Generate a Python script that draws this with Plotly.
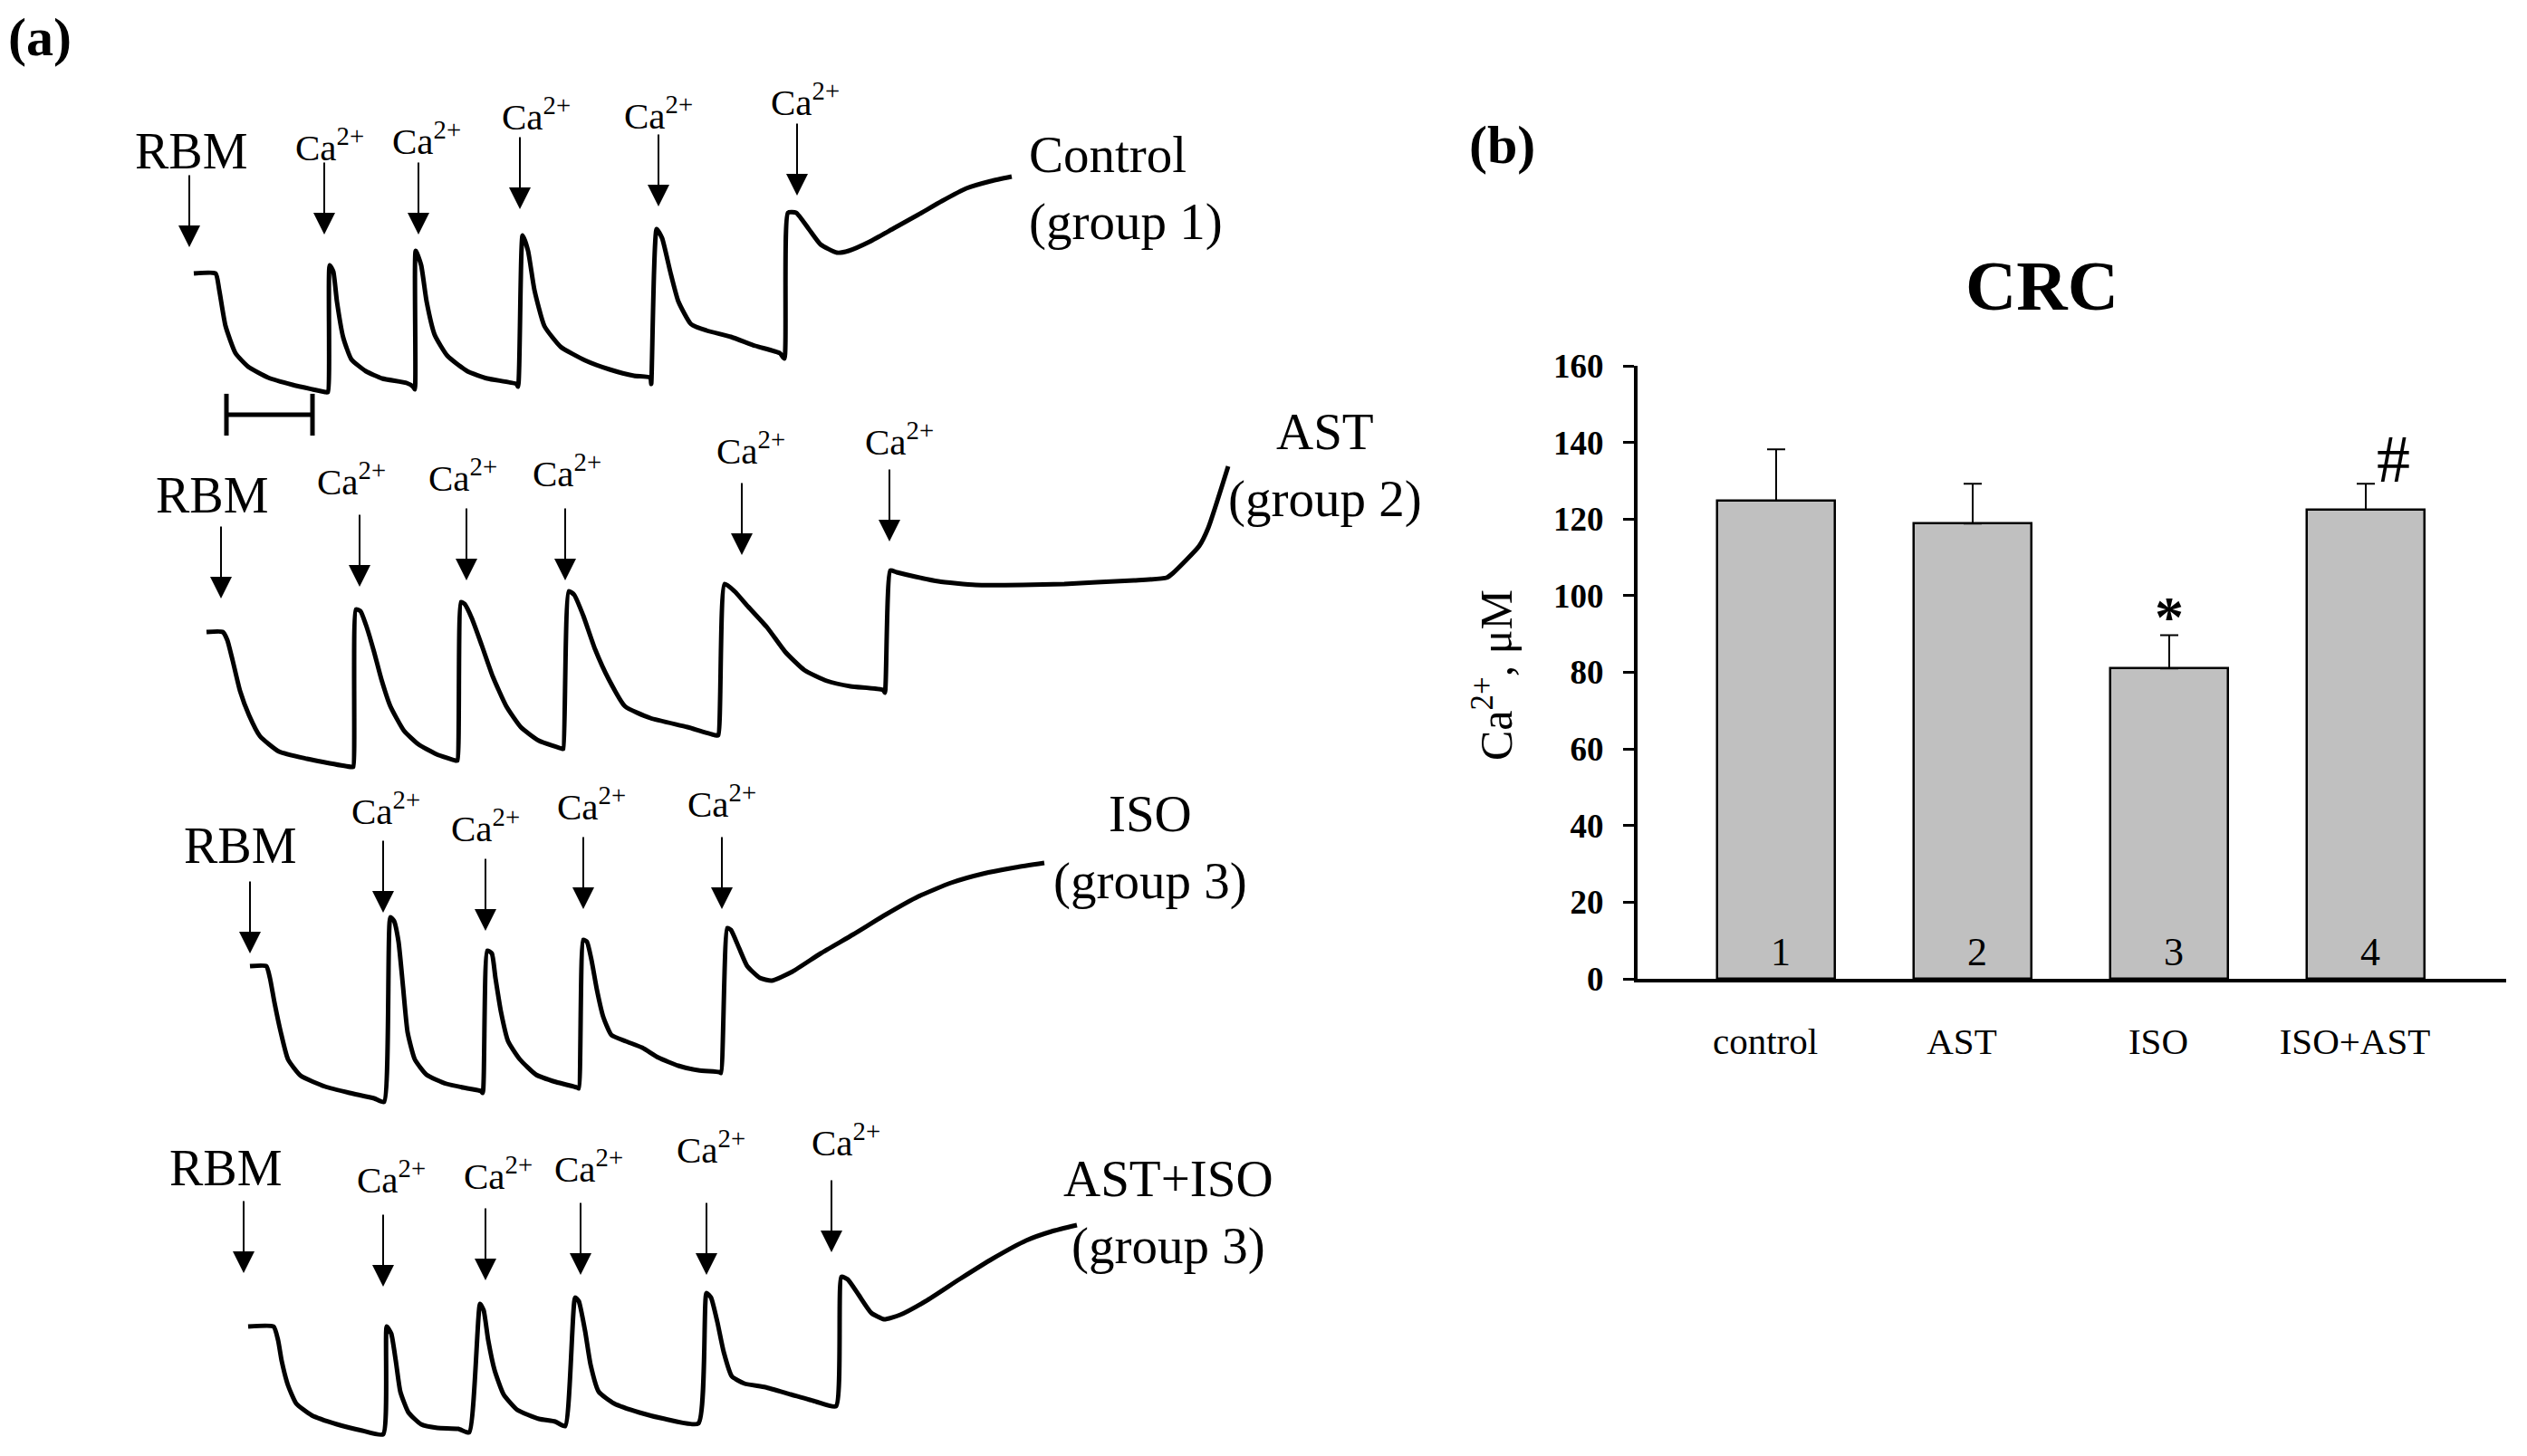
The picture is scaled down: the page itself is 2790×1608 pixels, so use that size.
import plotly.graph_objects as go

# ------------------------------------------------------------------
# DATA
# ------------------------------------------------------------------
# Panel (a): Ca2+ retention traces, (time, signal) pairs.
# time in px-units from RBM addition, signal upward-positive relative to start level.
control_trace = [(0, 0), (24, 0), (28, -18), (35, -58), (46, -88), (60, -103), (82, -115), (109, -123),
                 (131, -128), (145, -131), (148, -131), (150, 9), (154, 2), (158, -31), (165, -71),
                 (174, -95), (190, -108), (208, -116), (235, -121), (242, -125), (244, -128), (245, 25),
                 (251, 9), (257, -31), (266, -68), (280, -91), (302, -108), (324, -116), (356, -122),
                 (358, -125), (363, 42), (369, 25), (376, -18), (387, -58), (405, -81), (432, -96),
                 (459, -106), (486, -113), (504, -115), (505, -122), (511, 49), (517, 39), (526, 2),
                 (535, -31), (549, -56), (566, -63), (593, -70), (620, -80), (647, -88), (652, -94),
                 (656, 67), (665, 67), (679, 49), (692, 32), (710, 23), (723, 25), (746, 35), (773, 50),
                 (800, 65), (826, 80), (853, 94), (880, 102), (903, 107)]

ast_trace = [(0, 0), (18, 0), (23, -9), (29, -32), (37, -65), (47, -92), (59, -115), (80, -132),
             (111, -140), (136, -145), (160, -149), (162, -149), (165, 25), (170, 23), (177, 5),
             (185, -22), (193, -52), (203, -82), (218, -109), (234, -124), (254, -135), (275, -142),
             (277, -142), (281, 33), (285, 31), (293, 15), (304, -15), (316, -49), (331, -82),
             (347, -105), (367, -120), (393, -129), (394, -129), (400, 45), (406, 41), (416, 18),
             (429, -19), (444, -52), (462, -82), (490, -95), (531, -105), (562, -114), (565, -114),
             (572, 53), (583, 45), (598, 28), (619, 5), (639, -22), (660, -42), (685, -54), (711, -60),
             (747, -64), (749, -67), (755, 68), (762, 66), (783, 61), (808, 56), (849, 52), (901, 52),
             (947, 53), (983, 55), (1024, 57), (1060, 60), (1067, 65), (1096, 95), (1106, 115),
             (1128, 183)]

iso_trace = [(0, 0), (18, 0), (22, -13), (27, -40), (34, -73), (42, -103), (56, -121), (83, -133),
             (110, -140), (137, -146), (148, -150), (155, 54), (159, 50), (164, 27), (169, -23),
             (174, -73), (182, -103), (195, -120), (217, -130), (240, -135), (255, -138), (257, -140),
             (262, 17), (267, 14), (271, -13), (277, -50), (285, -83), (298, -103), (316, -120),
             (338, -128), (361, -134), (363, -135), (368, 29), (372, 27), (377, 7), (383, -26),
             (390, -56), (399, -76), (415, -83), (433, -90), (451, -101), (473, -110), (495, -115),
             (518, -117), (520, -118), (527, 42), (531, 40), (540, 20), (549, 0), (563, -13),
             (576, -16), (599, -6), (630, 14), (666, 35), (702, 57), (738, 77), (774, 92), (809, 102),
             (845, 109), (877, 114)]

astiso_trace = [(0, 0), (28, 0), (33, -15), (37, -38), (44, -65), (53, -85), (70, -98), (98, -108),
                (126, -115), (149, -119), (153, 0), (158, -8), (163, -38), (168, -72), (177, -95),
                (191, -108), (209, -112), (232, -113), (244, -117), (256, 25), (260, 18), (265, -15),
                (272, -48), (282, -75), (297, -92), (321, -102), (339, -105), (350, -110), (361, 32),
                (365, 28), (372, -5), (378, -42), (387, -72), (404, -85), (432, -95), (460, -102),
                (497, -107), (506, 37), (511, 32), (518, 5), (525, -28), (534, -55), (548, -63),
                (571, -67), (599, -75), (627, -83), (649, -88), (655, 55), (662, 52), (674, 35),
                (688, 15), (702, 8), (720, 13), (748, 28), (785, 52), (822, 75), (859, 95), (887, 105),
                (915, 112)]

# additions: (time, signal at arrow tip); first is RBM, the rest Ca2+
control_adds = [(-5, 25), (144, 39), (248, 39), (360, 67), (513, 70), (666, 82)]
ast_adds = [(16, 33), (169, 46), (287, 53), (396, 53), (591, 81), (754, 96)]
iso_adds = [(0, 10), (147, 55), (260, 35), (368, 59), (521, 59)]
astiso_adds = [(-5, 55), (149, 40), (262, 47), (367, 53), (506, 53), (644, 78)]

group_names = ["Control<br>(group 1)", "AST<br>(group 2)", "ISO<br>(group 3)", "AST+ISO<br>(group 3)"]
scale_bar_time = 95

# Panel (b): CRC bar chart
groups = ["control", "AST", "ISO", "ISO+AST"]
crc_mean = [124.8, 118.8, 81.0, 122.4]
crc_err = [13.4, 10.4, 8.7, 6.8]
group_numbers = ["1", "2", "3", "4"]
y_ticks = [0, 20, 40, 60, 80, 100, 120, 140, 160]

# ------------------------------------------------------------------
# LAYOUT / STYLE
# ------------------------------------------------------------------
W, H = 2790, 1608
SERIF = "Liberation Serif"
ARROW_LEN = 85

panels = [
    dict(trace=control_trace, adds=control_adds, x0=214, y0=302,
         gaps=[25, 18, 25, 24, 22, 25], dxs=[2, 6, 9, 18, 0, 9],
         name_xy=(1134, 208), name_anchor="left"),
    dict(trace=ast_trace, adds=ast_adds, x0=228, y0=698,
         gaps=[33, 38, 35, 40, 37, 32], dxs=[-10, -9, -4, 2, 10, 11],
         name_xy=(1463, 514), name_anchor="center"),
    dict(trace=iso_trace, adds=iso_adds, x0=276, y0=1067,
         gaps=[38, 34, 35, 35, 38], dxs=[-11, 3, 0, 9, 0],
         name_xy=(1270, 936), name_anchor="center"),
    dict(trace=astiso_trace, adds=astiso_adds, x0=274, y0=1465,
         gaps=[35, 40, 37, 39, 60, 43], dxs=[-20, 9, 14, 9, 5, 16],
         name_xy=(1290, 1339), name_anchor="center"),
]

fig = go.Figure()

for p, name in zip(panels, group_names):
    xs = [p["x0"] + t for t, s in p["trace"]]
    ys = [p["y0"] - s for t, s in p["trace"]]
    fig.add_trace(go.Scatter(x=xs, y=ys, mode="lines", xaxis="x", yaxis="y",
                             line=dict(color="black", width=5, shape="spline", smoothing=0.5),
                             hoverinfo="skip"))
    for i, ((t, s), gap, dx) in enumerate(zip(p["adds"], p["gaps"], p["dxs"])):
        ax_x = p["x0"] + t
        tip = p["y0"] - s
        top = tip - ARROW_LEN
        fig.add_annotation(x=ax_x, y=tip - 4, ax=ax_x, ay=top, xref="x", yref="y", axref="x", ayref="y",
                           text="", showarrow=True, arrowhead=2, arrowsize=2.4, arrowwidth=2,
                           arrowcolor="black")
        label = "RBM" if i == 0 else "Ca<sup>2+</sup>"
        size = 56 if i == 0 else 41
        fig.add_annotation(x=ax_x + dx, y=top - gap, xref="x", yref="y", text=label, showarrow=False,
                           xanchor="center", yanchor="middle",
                           font=dict(family=SERIF, size=size, color="black"))
    nx, ny = p["name_xy"]
    fig.add_annotation(x=nx, y=ny, xref="x", yref="y", text=name, showarrow=False,
                       xanchor=p["name_anchor"], yanchor="middle", align=p["name_anchor"],
                       font=dict(family=SERIF, size=57, color="black"))

# scale bar under the control trace
sb_x0, sb_y = 250, 458
fig.add_trace(go.Scatter(x=[sb_x0, sb_x0 + scale_bar_time], y=[sb_y, sb_y], mode="lines+markers",
                         xaxis="x", yaxis="y", hoverinfo="skip",
                         line=dict(color="black", width=5),
                         marker=dict(symbol="line-ns", size=33, line=dict(color="black", width=5))))

# panel (b) bars
fig.add_trace(go.Bar(x=list(range(len(groups))), y=crc_mean, xaxis="x2", yaxis="y2", width=0.6,
                     marker=dict(color="#C0C0C0", line=dict(color="black", width=2.5)),
                     error_y=dict(type="data", array=crc_err, symmetric=False,
                                  arrayminus=[0] * len(groups), color="black", thickness=2, width=10),
                     hoverinfo="skip"))

for i, num in enumerate(group_numbers):
    fig.add_annotation(x=i, y=7, xref="x2", yref="y2", text=num, showarrow=False, xshift=5,
                       xanchor="center", yanchor="middle",
                       font=dict(family=SERIF, size=44, color="black"))

# significance marks
iso_i = groups.index("ISO")
fig.add_annotation(x=iso_i, y=crc_mean[iso_i] + crc_err[iso_i] + 7, xref="x2", yref="y2", text="<b>*</b>",
                   showarrow=False, font=dict(family=SERIF, size=64, color="black"),
                   xanchor="center", yanchor="middle", yshift=-10)
ia_i = groups.index("ISO+AST")
fig.add_annotation(x=ia_i, y=crc_mean[ia_i] + crc_err[ia_i] + 6.5, xref="x2", yref="y2", text="#",
                   showarrow=False, xshift=30, font=dict(family=SERIF, size=74, color="black"),
                   xanchor="center", yanchor="middle")

# panel labels and titles
def paper_text(x, y, text, size, angle=0):
    fig.add_annotation(x=x / W, y=1 - y / H, xref="paper", yref="paper", text=text, showarrow=False,
                       xanchor="center", yanchor="middle", textangle=angle,
                       font=dict(family=SERIF, size=size, color="black"))

paper_text(44, 41, "<b>(a)</b>", 60)
paper_text(1658, 160, "<b>(b)</b>", 60)
paper_text(2254, 315, "<b>CRC</b>", 78)
paper_text(1648, 746, "Ca<sup>2+</sup>, μM", 50, angle=-90)

# bar axis geometry
x_left, x_right = 1808, 2767
bar0_c, bar_step = 1961, 217
y_zero_px, y_top_px = 1081, 404

fig.update_layout(
    width=W, height=H,
    margin=dict(l=0, r=0, t=0, b=0, pad=0, autoexpand=False),
    paper_bgcolor="white", plot_bgcolor="white",
    showlegend=False,
    bargap=0,
    xaxis=dict(domain=[0, 1600 / W], range=[0, 1600], visible=False, fixedrange=True),
    yaxis=dict(domain=[0, 1], range=[H, 0], visible=False, fixedrange=True),
    xaxis2=dict(domain=[x_left / W, x_right / W], anchor="y2",
                range=[(x_left - bar0_c) / bar_step, (x_right - bar0_c) / bar_step],
                tickvals=list(range(len(groups))), ticktext=groups, ticks="",
                showline=True, linecolor="black", linewidth=4, showgrid=False, zeroline=False,
                tickfont=dict(family=SERIF, size=41, color="black"), ticklabelstandoff=30,
                ticklabelshift=-12),
    yaxis2=dict(domain=[1 - y_zero_px / H, 1 - y_top_px / H], anchor="x2", range=[0, 160],
                tickvals=y_ticks, ticks="outside", ticklen=12, tickwidth=3, tickcolor="black",
                showline=True, linecolor="black", linewidth=4, showgrid=False, zeroline=False,
                tickfont=dict(family=SERIF, size=37, color="black", weight="bold"),
                ticklabelstandoff=14),
)

fig.write_html("out.html", config={"displayModeBar": False},
               post_script="document.body.style.margin='0';document.body.style.overflow='hidden';")
